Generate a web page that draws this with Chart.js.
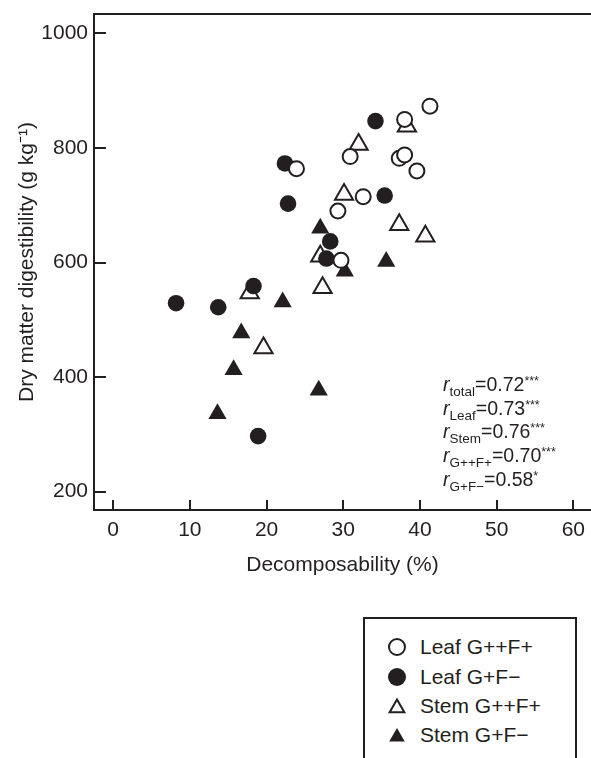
<!DOCTYPE html>
<html>
<head>
<meta charset="utf-8">
<script src="https://cdn.jsdelivr.net/npm/chart.js@4/dist/chart.umd.min.js"></script>
<style>
html,body{margin:0;padding:0;background:#fff;}
body{width:591px;height:758px;position:relative;overflow:hidden;font-family:"Liberation Sans",Arial,sans-serif;color:#231f20;}
#wrap{position:absolute;left:0;top:0;width:591px;height:600px;}
#stats{position:absolute;left:443px;top:373px;font-size:19.5px;line-height:23.7px;}
#stats div{height:23.7px;white-space:nowrap;}
#stats i{font-style:italic;}
#stats sub{font-size:13.5px;vertical-align:-5px;line-height:0;}
#stats sup{font-size:12.5px;vertical-align:6px;line-height:0;}
#legend{position:absolute;left:363px;top:617px;width:210px;height:170px;border:2px solid #231f20;box-sizing:content-box;}
.item{position:absolute;left:0;height:24px;width:210px;}
.item canvas{position:absolute;left:20px;top:0;}
.item span{position:absolute;left:55px;top:0;font-size:21px;line-height:24px;white-space:nowrap;}
</style>
</head>
<body>
<div id="wrap"><canvas id="c" width="591" height="600"></canvas></div>
<div id="stats">
  <div><i>r</i><sub>total</sub>=0.72<sup>***</sup></div>
  <div><i>r</i><sub>Leaf</sub>=0.73<sup>***</sup></div>
  <div><i>r</i><sub>Stem</sub>=0.76<sup>***</sup></div>
  <div><i>r</i><sub>G++F+</sub>=0.70<sup>***</sup></div>
  <div><i>r</i><sub>G+F−</sub>=0.58<sup>*</sup></div>
</div>
<div id="legend"></div>
<script>
// ---- data ----
const seriesNames = ["Leaf G++F+", "Leaf G+F\u2212", "Stem G++F+", "Stem G+F\u2212"];

const leafGFplusX  = [41.3, 38.0, 30.9, 23.9, 37.3, 38.0, 39.6, 32.6, 29.3, 29.7];
const leafGFplusY  = [873, 850, 785, 764, 782, 788, 760, 715, 690, 604];

const leafGFminusX = [34.2, 22.4, 22.8, 35.4, 28.3, 27.8, 8.2, 13.7, 18.3, 18.9];
const leafGFminusY = [847, 773, 703, 717, 637, 607, 529, 522, 559, 297];

const stemGFplusX  = [38.3, 32.0, 30.1, 37.3, 40.7, 27.0, 27.3, 17.8, 19.6];
const stemGFplusY  = [838, 806, 719, 666, 646, 611, 556, 547, 451];

const stemGFminusX = [27.0, 35.6, 30.2, 22.1, 16.7, 15.7, 13.6, 26.8];
const stemGFminusY = [660, 602, 585, 531, 477, 413, 336, 377];

const xTicks = [0, 10, 20, 30, 40, 50, 60];
const yTicks = [200, 400, 600, 800, 1000];
const xTitle = "Decomposability (%)";
const yTitle = "Dry matter digestibility (g kg\u207B\u00B9)";

// ---- styling ----
const INK = "#231f20";
const FONT = "'Liberation Sans', Arial, sans-serif";
const pts = (xs, ys) => xs.map((v, i) => ({x: v, y: ys[i]}));

const styles = [
  {pointStyle: 'circle',   radius: 7.5,  backgroundColor: '#ffffff', borderWidth: 2},
  {pointStyle: 'circle',   radius: 8.3,  backgroundColor: INK,       borderWidth: 0},
  {pointStyle: 'triangle', radius: 10.5, backgroundColor: '#ffffff', borderWidth: 2},
  {pointStyle: 'triangle', radius: 10.5, backgroundColor: INK,       borderWidth: 0}
];
const dataSets = [
  pts(leafGFplusX, leafGFplusY),
  pts(leafGFminusX, leafGFminusY),
  pts(stemGFplusX, stemGFplusY),
  pts(stemGFminusX, stemGFminusY)
];

const datasets = dataSets.map((d, i) => ({
  label: seriesNames[i],
  data: d,
  showLine: false,
  pointStyle: styles[i].pointStyle,
  pointRadius: styles[i].radius,
  pointHoverRadius: styles[i].radius,
  pointBackgroundColor: styles[i].backgroundColor,
  pointBorderColor: INK,
  pointBorderWidth: styles[i].borderWidth,
  backgroundColor: styles[i].backgroundColor,
  borderColor: INK
}));

const frame = {
  id: 'frame',
  afterDraw(chart) {
    const {ctx, chartArea: a, scales: {x, y}} = chart;
    ctx.save();
    ctx.strokeStyle = INK;
    ctx.lineWidth = 2;
    ctx.beginPath();
    ctx.moveTo(a.left - 1, a.top);
    ctx.lineTo(a.right, a.top);
    xTicks.forEach(v => {
      const px = Math.round(x.getPixelForValue(v));
      ctx.moveTo(px, a.bottom);
      ctx.lineTo(px, a.bottom - 10);
    });
    yTicks.forEach(v => {
      const py = Math.round(y.getPixelForValue(v));
      ctx.moveTo(a.left, py);
      ctx.lineTo(a.left + 12, py);
    });
    ctx.stroke();
    ctx.restore();
  }
};

const chart = new Chart(document.getElementById('c'), {
  type: 'scatter',
  data: {datasets},
  plugins: [frame],
  options: {
    responsive: false,
    animation: false,
    devicePixelRatio: 1,
    layout: {autoPadding: false, padding: {top: 14, right: 0, left: 0, bottom: 0}},
    plugins: {legend: {display: false}, tooltip: {enabled: false}},
    scales: {
      x: {
        type: 'linear', position: 'bottom', min: -2.5, max: 62.3,
        afterBuildTicks(s) { s.ticks = xTicks.map(v => ({value: v})); },
        afterFit(s) { s.height = 90; s.paddingLeft = 0; s.paddingRight = 0; },
        grid: {display: false, drawTicks: false},
        border: {display: true, color: INK, width: 2},
        ticks: {color: INK, font: {family: FONT, size: 21}, padding: 8, maxRotation: 0, autoSkip: false,
                callback: v => String(v)},
        title: {display: true, text: xTitle, color: INK, font: {family: FONT, size: 21}, padding: {top: 0, bottom: 22}}
      },
      y: {
        type: 'linear', position: 'left', min: 168, max: 1034,
        afterBuildTicks(s) { s.ticks = yTicks.map(v => ({value: v})); },
        afterFit(s) { s.width = 94; s.paddingTop = 0; s.paddingBottom = 0; },
        grid: {display: false, drawTicks: false},
        border: {display: true, color: INK, width: 2},
        ticks: {color: INK, font: {family: FONT, size: 21}, padding: 6, autoSkip: false,
                callback: v => String(v)},
        title: {display: true, text: yTitle, color: INK, font: {family: FONT, size: 21}, padding: {top: 15, bottom: 0}}
      }
    }
  }
});

// ---- HTML legend built from the chart's datasets ----
const legend = document.getElementById('legend');
const rowCenters = [28, 58, 87, 116];
const legendRadius = [8, 9, 8.5, 9];
chart.data.datasets.forEach((ds, i) => {
  const item = document.createElement('div');
  item.className = 'item';
  item.style.top = (rowCenters[i] - 12) + 'px';
  const cv = document.createElement('canvas');
  cv.width = 24; cv.height = 24;
  const ctx = cv.getContext('2d');
  ctx.fillStyle = ds.pointBackgroundColor;
  ctx.strokeStyle = INK;
  ctx.lineWidth = 2;
  const opts = {pointStyle: ds.pointStyle, radius: legendRadius[i], borderWidth: ds.pointBorderWidth, rotation: 0};
  const cy = ds.pointStyle === 'triangle' ? 14 : 12;
  if (Chart.helpers && Chart.helpers.drawPoint) {
    Chart.helpers.drawPoint(ctx, opts, 12, cy);
  } else {
    ctx.beginPath();
    ctx.arc(12, 12, legendRadius[i], 0, Math.PI * 2);
    ctx.fill();
    if (ds.pointBorderWidth > 0) ctx.stroke();
  }
  const sp = document.createElement('span');
  sp.textContent = ds.label;
  item.appendChild(cv);
  item.appendChild(sp);
  legend.appendChild(item);
});
</script>
</body>
</html>
